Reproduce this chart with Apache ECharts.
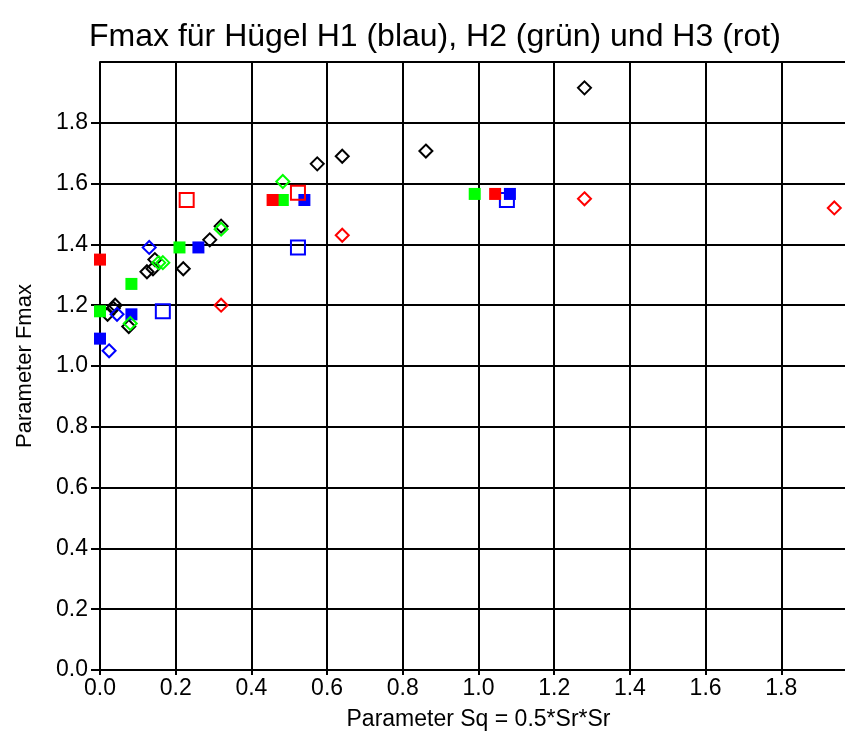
<!DOCTYPE html>
<html>
<head>
<meta charset="utf-8">
<script src="https://cdn.jsdelivr.net/npm/echarts@6/dist/echarts.min.js"></script>
<style>
  html, body { margin: 0; padding: 0; background: #fff; }
  #chart { width: 845px; height: 735px; }
</style>
</head>
<body>
<div id="chart"></div>
<script>
// [Sq, Fmax] pairs
var blackDiamond = [[0.02, 1.17], [0.035, 1.19], [0.04, 1.20], [0.076, 1.13], [0.124, 1.31], [0.14, 1.32],
  [0.145, 1.35], [0.22, 1.32], [0.29, 1.415], [0.32, 1.46], [0.574, 1.665], [0.64, 1.69], [0.861, 1.707], [1.28, 1.915]];
var blueDiamond = [[0.024, 1.05], [0.045, 1.17], [0.13, 1.39]];
var blueOpen = [[0.166, 1.18], [0.523, 1.39], [1.075, 1.546]];
var blueFilled = [[0, 1.09], [0.083, 1.17], [0.26, 1.39], [0.54, 1.546], [1.083, 1.566]];
var greenDiamond = [[0.08, 1.14], [0.155, 1.34], [0.166, 1.34], [0.32, 1.45], [0.483, 1.607]];
var greenFilled = [[0, 1.18], [0.083, 1.27], [0.21, 1.39], [0.483, 1.546], [0.99, 1.566]];
var redDiamond = [[0.32, 1.20], [0.64, 1.43], [1.28, 1.55], [1.94, 1.52]];
var redOpen = [[0.229, 1.546], [0.523, 1.57]];
var redFilled = [[0, 1.35], [0.456, 1.546], [1.044, 1.566]];

var xTicks = [0, 0.2, 0.4, 0.6, 0.8, 1.0, 1.2, 1.4, 1.6, 1.8];

function open(name, data, color, symbol, size) {
  return {
    name: name, type: 'scatter', data: data, symbol: symbol, symbolSize: size,
    itemStyle: { color: 'rgba(0,0,0,0)', borderColor: color, borderWidth: 2, opacity: 1 },
    emphasis: { disabled: true }
  };
}
function filled(name, data, color) {
  return {
    name: name, type: 'scatter', data: data, symbol: 'rect', symbolSize: 12,
    itemStyle: { color: color, opacity: 1 },
    emphasis: { disabled: true }
  };
}

var chart = echarts.init(document.getElementById('chart'));
var font = 'Liberation Sans, Arial, sans-serif';
var option = {
  animation: false,
  title: {
    text: 'Fmax für Hügel H1 (blau), H2 (grün) und H3 (rot)',
    left: 84, top: 16,
    textStyle: { fontFamily: font, fontSize: 32, fontWeight: 'normal', color: '#000' }
  },
  grid: { left: 100, top: 62, right: -12, bottom: 65, containLabel: false, outerBoundsMode: 'none' },
  xAxis: {
    type: 'value', min: 0, max: 2, interval: 0.2,
    name: 'Parameter Sq = 0.5*Sr*Sr', nameLocation: 'middle', nameGap: 38,
    nameTextStyle: { fontFamily: font, fontSize: 23, color: '#000' },
    axisLine: { lineStyle: { color: '#000', width: 2 } },
    axisTick: { show: true, length: 5, lineStyle: { color: '#000', width: 2 } },
    axisLabel: {
      fontFamily: font, fontSize: 23, color: '#000', margin: 7,
      formatter: function (v) { return xTicks.indexOf(Math.round(v * 10) / 10) >= 0 ? v.toFixed(1) : ''; }
    },
    splitLine: { lineStyle: { color: '#000', width: 2 } }
  },
  yAxis: {
    type: 'value', min: 0, max: 2, interval: 0.2,
    name: 'Parameter Fmax', nameLocation: 'middle', nameGap: 64,
    nameTextStyle: { fontFamily: font, fontSize: 22, color: '#000' },
    axisLine: { lineStyle: { color: '#000', width: 2 } },
    axisTick: { show: true, length: 9, lineStyle: { color: '#000', width: 2 } },
    axisLabel: { fontFamily: font, fontSize: 23, color: '#000', margin: 12, showMaxLabel: false,
      formatter: function (v) { return v.toFixed(1); } },
    splitLine: { lineStyle: { color: '#000', width: 2 } }
  },
  series: [
    open('schwarz', blackDiamond, '#000', 'diamond', 13),
    filled('H1 voll', blueFilled, '#0000ff'),
    open('H1 offen', blueOpen, '#0000ff', 'rect', 14),
    open('H1 Raute', blueDiamond, '#0000ff', 'diamond', 13),
    filled('H2 voll', greenFilled, '#00ff00'),
    open('H2 Raute', greenDiamond, '#00ff00', 'diamond', 13),
    filled('H3 voll', redFilled, '#ff0000'),
    open('H3 offen', redOpen, '#ff0000', 'rect', 14),
    open('H3 Raute', redDiamond, '#ff0000', 'diamond', 13)
  ]
};
chart.setOption(option);
</script>
</body>
</html>
